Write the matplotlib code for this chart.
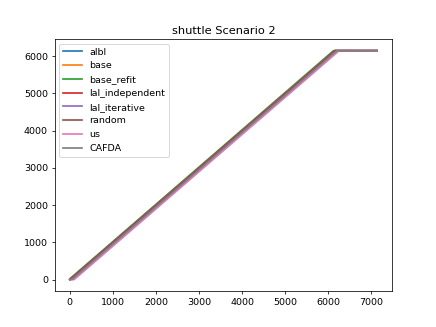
import matplotlib
matplotlib.use('Agg')
import matplotlib.pyplot as plt

# series breakpoints
x_std = [0, 6150, 7130]
y_std = [0, 6150, 6150]

x_refit = [0, 6120, 7130]
y_refit = [20, 6150, 6150]

x_us = [0, 100, 6250, 7130]
y_us = [0, 0, 6150, 6150]

x_cafda = [0, 50, 6200, 7130]
y_cafda = [0, 0, 6150, 6150]

names = ['albl', 'base', 'base_refit', 'lal_independent', 'lal_iterative',
         'random', 'us', 'CAFDA']

series = {
    'albl': (x_std, y_std),
    'base': (x_std, y_std),
    'base_refit': (x_refit, y_refit),
    'lal_independent': (x_std, y_std),
    'lal_iterative': (x_std, y_std),
    'random': (x_std, y_std),
    'us': (x_us, y_us),
    'CAFDA': (x_cafda, y_cafda),
}

fig = plt.figure(figsize=(6.4, 4.8), dpi=68.125)
for name in names:
    xs, ys = series[name]
    plt.plot(xs, ys, label=name, linewidth=1.8)
plt.title('shuttle Scenario 2')
plt.legend(loc='upper left')
plt.savefig('out.png', dpi=68.125)
